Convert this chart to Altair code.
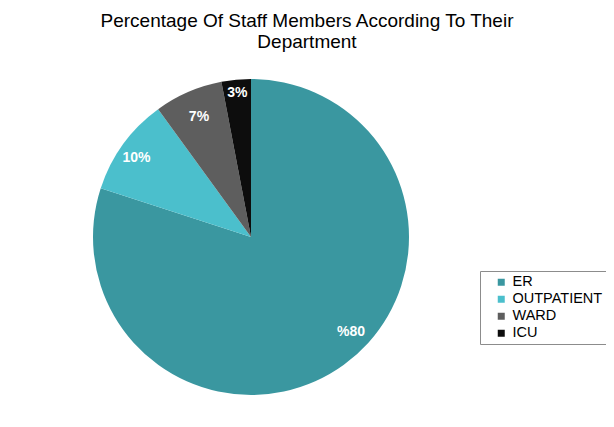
import altair as alt
import pandas as pd

title_lines = ["Percentage Of Staff Members According To Their", "Department"]
departments = ["ER", "OUTPATIENT", "WARD", "ICU"]
percentages = [80, 10, 7, 3]
labels = ["%80", "10%", "7%", "3%"]
colors = ["#3A97A0", "#4BBFCC", "#5E5E5E", "#0D0D0D"]

df = pd.DataFrame({
    "department": departments,
    "pct": percentages,
    "label": labels,
    "order": list(range(len(departments))),
})

FONT = "Liberation Sans"
CX, CY = 243, 169
theta_scale = alt.Scale(domain=[0, 100])

base = (
    alt.Chart(df)
    .transform_stack(stack="pct", groupby=[], as_=["start", "end"],
                     sort=[alt.SortField("order", order="ascending")])
    .transform_calculate(mid="(datum.start + datum.end) / 2")
)

arc = base.mark_arc(outerRadius=158).encode(
    theta=alt.Theta("start:Q", scale=theta_scale),
    theta2="end:Q",
    color=alt.Color(
        "department:N",
        scale=alt.Scale(domain=departments, range=colors),
        sort=departments,
        legend=alt.Legend(
            title=None, orient="none", legendX=472, legendY=203,
            padding=4, symbolOffset=10, strokeColor="#8c8c8c", fillColor="white",
            labelFont=FONT, labelFontSize=14.5, labelColor="black",
            symbolType="square", symbolSize=49, symbolStrokeWidth=0,
            rowPadding=2, labelOffset=4,
        ),
    ),
    x=alt.value(CX),
    y=alt.value(CY),
)

text_style = dict(font=FONT, fontSize=14, fontWeight="bold", color="white",
                  align="center", baseline="middle")

# label placement per slice: (radius, dx, dy)
label_place = {
    "ER": (138, 19, -17),
    "OUTPATIENT": (139, -2, 3),
    "WARD": (131, 0, 0),
    "ICU": (145, 0, 0),
}

text_layers = []
for dep in departments:
    r, dx, dy = label_place[dep]
    text_layers.append(
        base.transform_filter(alt.datum.department == dep)
        .mark_text(dx=dx, dy=dy, **text_style)
        .encode(
            theta=alt.Theta("mid:Q", scale=theta_scale),
            radius=alt.value(r),
            text="label:N",
            x=alt.value(CX),
            y=alt.value(CY),
        )
    )

chart = alt.layer(arc, *text_layers).properties(
    width=598, height=351,
    title=alt.Title(title_lines, font=FONT, fontSize=19, fontWeight="normal",
                    color="black", lineHeight=21, anchor="middle", frame="group", offset=16),
    padding={"left": 0, "top": 60, "right": 0, "bottom": 0},
    autosize=alt.AutoSizeParams(type="none"),
).configure_view(stroke=None)

chart.save("out.html", embed_options={"renderer": "svg", "actions": False})
